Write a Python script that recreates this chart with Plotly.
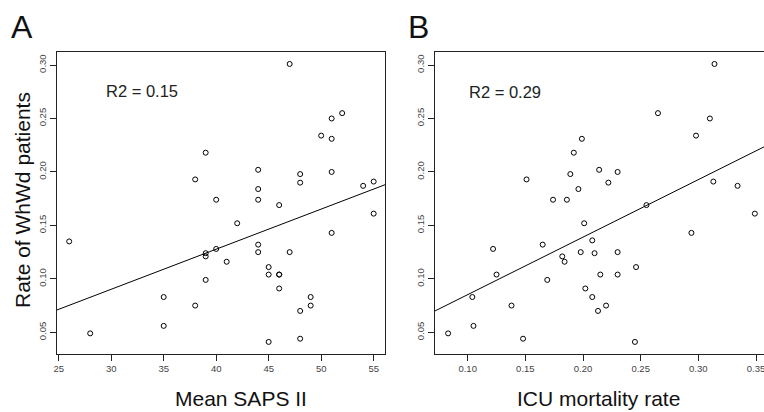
import plotly.graph_objects as go

# Panel A: Mean SAPS II vs rate of WhWd patients
saps = [38, 47, 52, 51, 50, 51, 39, 44, 48, 51, 48, 44, 54, 55, 40, 44, 46, 55, 42, 51,
        44, 44, 47, 40, 39, 39, 41, 45, 45, 46, 46, 39, 46, 49, 38, 49, 48, 48, 45, 26,
        35, 35, 28]
rate_a = [0.193, 0.301, 0.255, 0.250, 0.234, 0.231, 0.218, 0.202, 0.198, 0.200, 0.190, 0.184,
          0.187, 0.191, 0.174, 0.174, 0.169, 0.161, 0.152, 0.143, 0.132, 0.125, 0.125, 0.128,
          0.124, 0.121, 0.116, 0.111, 0.104, 0.104, 0.104, 0.099, 0.091, 0.083, 0.075, 0.075,
          0.070, 0.044, 0.041, 0.135, 0.083, 0.056, 0.049]

# Panel B: ICU mortality rate vs rate of WhWd patients
icu = [0.192, 0.151, 0.189, 0.196, 0.174, 0.186, 0.314, 0.265, 0.310, 0.298, 0.199, 0.214,
       0.230, 0.222, 0.313, 0.334, 0.255, 0.349, 0.201, 0.294, 0.208, 0.198, 0.210, 0.230,
       0.246, 0.215, 0.230, 0.202, 0.208, 0.220, 0.213, 0.245, 0.165, 0.122, 0.182, 0.184,
       0.125, 0.169, 0.104, 0.138, 0.105, 0.083, 0.148]
rate_b = [0.218, 0.193, 0.198, 0.184, 0.174, 0.174, 0.301, 0.255, 0.250, 0.234, 0.231, 0.202,
          0.200, 0.190, 0.191, 0.187, 0.169, 0.161, 0.152, 0.143, 0.136, 0.125, 0.124, 0.125,
          0.111, 0.104, 0.104, 0.091, 0.083, 0.075, 0.070, 0.041, 0.132, 0.128, 0.121, 0.116,
          0.104, 0.099, 0.083, 0.075, 0.056, 0.049, 0.044]

# Fitted regression lines (intercept, slope)
fit_a = [-0.02225, 0.00375]
fit_b = [0.03143, 0.538]
r2_labels = ["R2 = 0.15", "R2 = 0.29"]

x_ticks_a = [25, 30, 35, 40, 45, 50, 55]
x_ticks_b = [0.10, 0.15, 0.20, 0.25, 0.30, 0.35]
y_ticks = [0.05, 0.10, 0.15, 0.20, 0.25, 0.30]

range_a = [24.838, 56.08]
range_b = [0.07164, 0.35694]
range_y = [0.0297, 0.3122]

W, H = 764, 412
FONT = "Liberation Sans, Arial, Helvetica, sans-serif"

fig = go.Figure()
marker = dict(symbol="circle-open", size=5, color="black", line=dict(width=1, color="black"))
fig.add_trace(go.Scatter(x=saps, y=rate_a, mode="markers", marker=marker, cliponaxis=False,
                         xaxis="x", yaxis="y", showlegend=False))
fig.add_trace(go.Scatter(x=icu, y=rate_b, mode="markers", marker=marker, cliponaxis=False,
                         xaxis="x2", yaxis="y2", showlegend=False))
fig.add_trace(go.Scatter(x=range_a, y=[fit_a[0] + fit_a[1] * v for v in range_a], mode="lines",
                         line=dict(color="black", width=1), xaxis="x", yaxis="y", showlegend=False))
fig.add_trace(go.Scatter(x=range_b, y=[fit_b[0] + fit_b[1] * v for v in range_b], mode="lines",
                         line=dict(color="black", width=1), xaxis="x2", yaxis="y2", showlegend=False))

ax_common = dict(showgrid=False, zeroline=False, showline=True, linecolor="#222", linewidth=1,
                 ticks="outside", ticklen=6, tickcolor="#222", tickwidth=1, automargin=False,
                 ticklabeloverflow="allow",
                 tickfont=dict(family=FONT, size=9.5, color="#444"))

fig.update_layout(
    template="none",
    width=W, height=H, autosize=False,
    margin=dict(l=0, r=0, t=0, b=0, pad=0),
    paper_bgcolor="white", plot_bgcolor="white",
    xaxis=dict(domain=[57 / W, 385 / W], range=range_a, tickvals=x_ticks_a,
               ticktext=[str(v) for v in x_ticks_a], anchor="y", mirror=True, **ax_common),
    yaxis=dict(domain=[58 / H, 360 / H], range=range_y, tickvals=y_ticks,
               ticktext=["%.2f" % v for v in y_ticks], tickangle=-90, anchor="x", mirror=True,
               **ax_common),
    xaxis2=dict(domain=[435 / W, 1.0], range=range_b, tickvals=x_ticks_b,
                ticktext=["%.2f" % v for v in x_ticks_b], anchor="y2", mirror=True, **ax_common),
    yaxis2=dict(domain=[58 / H, 360 / H], range=range_y, tickvals=y_ticks,
                ticktext=["%.2f" % v for v in y_ticks], tickangle=-90, anchor="x2", **ax_common),
)

def px(x):
    return x / W

def py(y):
    return 1 - y / H

ann = [
    dict(text="A", x=px(22), y=py(27), size=32),
    dict(text="B", x=px(418.5), y=py(27), size=32),
    dict(text="Mean SAPS II", x=px(240.5), y=py(398), size=21),
    dict(text="ICU mortality rate", x=px(598), y=py(398), size=21),
]
for a in ann:
    fig.add_annotation(text=a["text"], x=a["x"], y=a["y"], xref="paper", yref="paper",
                       showarrow=False, xanchor="center", yanchor="middle",
                       font=dict(family=FONT, size=a["size"], color="#111"))
fig.add_annotation(text="Rate of WhWd patients", x=px(22), y=py(200), xref="paper", yref="paper",
                   showarrow=False, textangle=-90, xanchor="center", yanchor="middle",
                   font=dict(family=FONT, size=21, color="#111"))
fig.add_annotation(text=r2_labels[0], x=px(104), y=py(91), xref="paper", yref="paper",
                   showarrow=False, xanchor="left", yanchor="middle",
                   font=dict(family=FONT, size=16.5, color="#222"))
fig.add_annotation(text=r2_labels[1], x=px(467), y=py(92), xref="paper", yref="paper",
                   showarrow=False, xanchor="left", yanchor="middle",
                   font=dict(family=FONT, size=16.5, color="#222"))

fig.write_html("out.html", config={"displayModeBar": False, "staticPlot": True},
               post_script="document.body.style.margin='0';document.body.style.padding='0';")
